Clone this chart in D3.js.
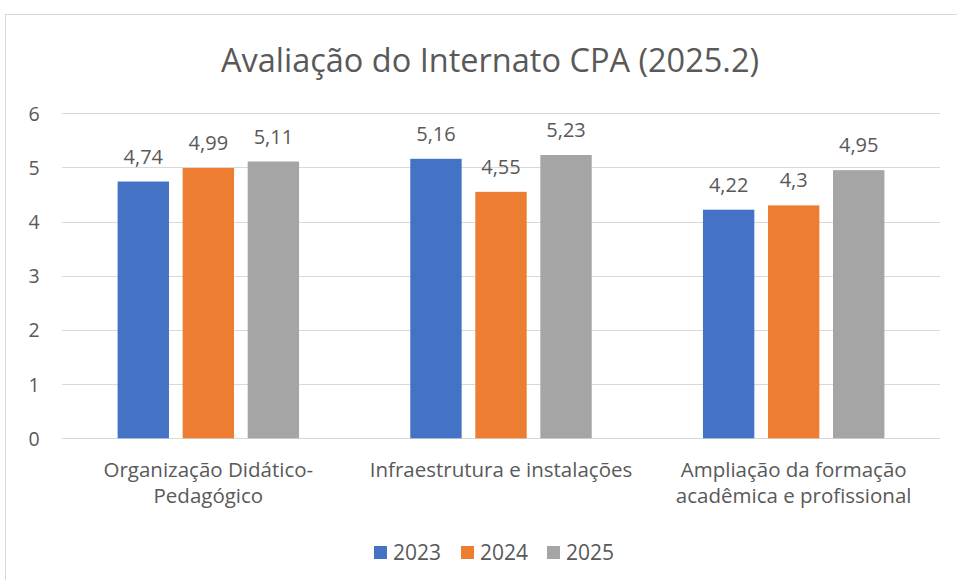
<!DOCTYPE html>
<html lang="pt">
<head>
<meta charset="UTF-8">
<title>Avaliação do Internato CPA</title>
<style>
    body { margin: 0; background: #fff; }
    svg text { font-family: "Open Sans", Calibri, Lato, sans-serif; fill: #595959; }
    .grid line { stroke: #d9d9d9; stroke-width: 1px; }
</style>
</head>
<body>
<script src="https://d3js.org/d3.v7.min.js"></script>
<script>
    // data
    var categories = [
        ["Organização Didático-", "Pedagógico"],
        ["Infraestrutura e instalações"],
        ["Ampliação da formação", "acadêmica e profissional"]
    ];
    var seriesNames = ["2023", "2024", "2025"];
    var values2023 = [4.74, 5.16, 4.22];
    var values2024 = [4.99, 4.55, 4.3];
    var values2025 = [5.11, 5.23, 4.95];
    var yTicks = [0, 1, 2, 3, 4, 5, 6];
    var colors = ["#4472c4", "#ed7d31", "#a5a5a5"];

    var width = 957, height = 580;
    var plot = {left: 62, right: 940, top: 113.3, bottom: 438.3};

    var svg = d3.select('body').append('svg')
        .attr('width', width).attr('height', height);

    // chart border
    svg.append('rect')
        .attr('x', 5.5).attr('y', 14.5)
        .attr('width', 960).attr('height', 570)
        .attr('fill', 'none').attr('stroke', '#d9d9d9');

    var allSeries = [values2023, values2024, values2025];
    var catIdx = categories.map(function (d, i) { return i; });

    var x0 = d3.scaleBand().domain(catIdx).range([plot.left, plot.right]);
    var bw = x0.bandwidth();
    var x1 = d3.scaleBand().domain(seriesNames)
        .range([bw * 0.19, bw * 0.81]).paddingInner(0.21);
    var y = d3.scaleLinear().domain([0, 6]).range([plot.bottom, plot.top]);

    // title
    svg.append('text')
        .attr('x', 490).attr('y', 72)
        .attr('text-anchor', 'middle')
        .style('font-size', '32.5px')
        .text('Avaliação do Internato CPA (2025.2)');

    // gridlines
    svg.append('g').attr('class', 'grid')
        .selectAll('line').data(yTicks).enter()
        .append('line')
        .attr('x1', plot.left).attr('x2', plot.right)
        .attr('y1', function (d) { return Math.round(y(d)) + 0.5; })
        .attr('y2', function (d) { return Math.round(y(d)) + 0.5; });

    // y axis labels
    var yAxis = d3.axisLeft(y).tickValues(yTicks).tickFormat(d3.format('d'))
        .tickSize(0).tickPadding(0);
    var yg = svg.append('g').attr('transform', 'translate(34,0)').call(yAxis);
    yg.select('.domain').remove();
    yg.attr('font-family', null).attr('font-size', null);
    yg.selectAll('text')
        .attr('text-anchor', 'middle')
        .attr('dy', '0.36em')
        .style('font-size', '19.5px')
        .style('fill', '#595959');

    // bars
    var groups = svg.append('g').selectAll('g')
        .data(catIdx).enter()
        .append('g')
        .attr('transform', function (d) { return 'translate(' + x0(d) + ',0)'; });

    var cells = groups.selectAll('g')
        .data(function (c) {
            return seriesNames.map(function (s, k) {
                return {series: s, k: k, value: allSeries[k][c]};
            });
        })
        .enter().append('g');

    cells.append('rect')
        .attr('x', function (d) { return x1(d.series); })
        .attr('width', x1.bandwidth())
        .attr('y', function (d) { return y(d.value); })
        .attr('height', function (d) { return y(0) - y(d.value); })
        .attr('fill', function (d) { return colors[d.k]; });

    cells.append('text')
        .attr('x', function (d) { return x1(d.series) + x1.bandwidth() / 2; })
        .attr('y', function (d) { return y(d.value) - 18; })
        .attr('text-anchor', 'middle')
        .style('font-size', '20px')
        .text(function (d) { return String(d.value).replace('.', ','); });

    // category labels
    svg.append('g').selectAll('text')
        .data(catIdx).enter()
        .append('text')
        .attr('text-anchor', 'middle')
        .style('font-size', '20.5px')
        .attr('transform', function (d) {
            return 'translate(' + (x0(d) + bw / 2) + ',477)';
        })
        .each(function (d) {
            var t = d3.select(this);
            categories[d].forEach(function (line, i) {
                t.append('tspan').attr('x', 0).attr('y', i * 26).text(line);
            });
        });

    // legend
    var legendX = [374, 461, 547];
    var legend = svg.append('g').selectAll('g')
        .data(seriesNames).enter()
        .append('g')
        .attr('transform', function (d, i) { return 'translate(' + legendX[i] + ',546)'; });
    legend.append('rect')
        .attr('width', 13).attr('height', 13)
        .attr('fill', function (d, i) { return colors[i]; });
    legend.append('text')
        .attr('x', 19).attr('y', 13.5)
        .style('font-size', '21px')
        .text(function (d) { return d; });
</script>
</body>
</html>
